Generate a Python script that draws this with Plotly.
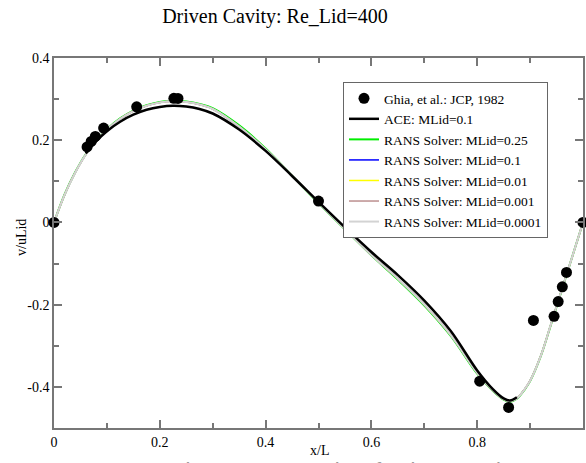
import plotly.graph_objects as go

# Ghia, Ghia & Shin (1982): v-velocity along the horizontal centreline, Re=400
ghia_x = [1.0000, 0.9688, 0.9609, 0.9531, 0.9453, 0.9063, 0.8594, 0.8047,
          0.5000, 0.2344, 0.2266, 0.1563, 0.0938, 0.0781, 0.0703, 0.0625, 0.0000]
ghia_v = [0.00000, -0.12146, -0.15663, -0.19254, -0.22847, -0.23827, -0.44993,
          -0.38598, 0.05188, 0.30174, 0.30203, 0.28124, 0.22965, 0.20920,
          0.19713, 0.18360, 0.00000]

# ACE solver, MLid = 0.1
ace_x = [0.06, 0.08, 0.10, 0.125, 0.15, 0.175, 0.20, 0.225, 0.25, 0.275, 0.30,
         0.35, 0.40, 0.45, 0.50, 0.55, 0.60, 0.65, 0.70, 0.75, 0.80, 0.83,
         0.85, 0.862, 0.875]
ace_v = [0.168, 0.198, 0.222, 0.245, 0.262, 0.274, 0.281, 0.284, 0.282, 0.276,
         0.265, 0.226, 0.174, 0.113, 0.050, -0.012, -0.072, -0.128, -0.190,
         -0.264, -0.360, -0.406, -0.428, -0.433, -0.425]

# RANS solver profiles
rans_x = [0.0, 0.02, 0.04, 0.06, 0.08, 0.10, 0.125, 0.15, 0.175, 0.20, 0.225,
          0.25, 0.275, 0.30, 0.35, 0.40, 0.45, 0.50, 0.55, 0.60, 0.65, 0.70,
          0.75, 0.80, 0.83, 0.85, 0.862, 0.875, 0.89, 0.90, 0.92, 0.94, 0.96,
          0.98, 1.0]
rans_v_025 = [0.0, 0.068, 0.122, 0.166, 0.200, 0.227, 0.253, 0.272, 0.285,
              0.293, 0.296, 0.294, 0.288, 0.278, 0.236, 0.180, 0.114, 0.047,
              -0.017, -0.080, -0.139, -0.202, -0.276, -0.368, -0.410, -0.431,
              -0.436, -0.429, -0.406, -0.386, -0.326, -0.246, -0.164, -0.082, 0.0]
rans_v_low = [0.0, 0.067, 0.121, 0.165, 0.199, 0.226, 0.252, 0.271, 0.284,
              0.292, 0.295, 0.293, 0.287, 0.276, 0.233, 0.178, 0.114, 0.048,
              -0.016, -0.079, -0.137, -0.200, -0.274, -0.366, -0.409, -0.430,
              -0.435, -0.428, -0.405, -0.385, -0.325, -0.245, -0.163, -0.082, 0.0]

rans_series = [
    ("RANS Solver: MLid=0.25", rans_v_025, "#00ee00", 2.0, 3),
    ("RANS Solver: MLid=0.1", rans_v_low, "#0000ff", 1.5, 4),
    ("RANS Solver: MLid=0.01", rans_v_low, "#ffff00", 1.5, 5),
    ("RANS Solver: MLid=0.001", rans_v_low, "#bc8f8f", 1.5, 6),
    ("RANS Solver: MLid=0.0001", rans_v_low, "#d3d3d3", 2.0, 7),
]

x_ticks = [0, 0.2, 0.4, 0.6, 0.8, 1.0]
x_tick_text = ["0", "0.2", "0.4", "0.6", "0.8", "1"]
y_ticks = [-0.4, -0.2, 0, 0.2, 0.4]
y_tick_text = ["-0.4", "-0.2", "0", "0.2", "0.4"]

SERIF = "Liberation Serif, Times New Roman, serif"
AXIS_GREY = "#777777"

fig = go.Figure()

for name, vals, color, width, rank in rans_series:
    fig.add_trace(go.Scatter(
        x=rans_x, y=vals, mode="lines", name=name,
        line=dict(color=color, width=width, shape="spline"),
        legendrank=rank,
    ))

fig.add_trace(go.Scatter(
    x=ace_x, y=ace_v, mode="lines", name="ACE: MLid=0.1",
    line=dict(color="black", width=2.5, shape="spline"),
    legendrank=2,
))

fig.add_trace(go.Scatter(
    x=ghia_x, y=ghia_v, mode="markers", name="Ghia, et al.: JCP, 1982",
    marker=dict(color="black", size=11, symbol="circle"),
    legendrank=1, cliponaxis=False,
))

axis_common = dict(
    showgrid=False, zeroline=False, showline=True, linecolor=AXIS_GREY,
    linewidth=1.5, mirror="ticks", ticks="inside", tickcolor=AXIS_GREY,
    ticklen=8, tickwidth=1.5,
    tickfont=dict(family=SERIF, size=14, color="black"),
)

fig.update_xaxes(
    range=[0, 1], tickvals=x_ticks, ticktext=x_tick_text,
    minor=dict(dtick=0.1, ticks="inside", ticklen=5, tickcolor=AXIS_GREY,
               tickwidth=1.5),
    **axis_common,
)
fig.update_yaxes(
    range=[-0.5, 0.4], tickvals=y_ticks, ticktext=y_tick_text,
    minor=dict(dtick=0.1, ticks="inside", ticklen=5, tickcolor=AXIS_GREY,
               tickwidth=1.5),
    **axis_common,
)

W, H = 586, 463
ML, MR, MT, MB = 54, 3, 58, 35
PW, PH = W - ML - MR, H - MT - MB


def px_x(px):
    return (px - ML) / PW


def px_y(py):
    return (H - MB - py) / PH


fig.update_layout(
    width=W, height=H,
    margin=dict(l=ML, r=MR, t=MT, b=MB, autoexpand=False),
    paper_bgcolor="white", plot_bgcolor="white",
    title=dict(text="Driven Cavity: Re_Lid=400", x=275 / W, xanchor="center",
               y=1 - 16 / H, yanchor="middle",
               font=dict(family=SERIF, size=20, color="black")),
    showlegend=True,
    legend=dict(
        x=px_x(343), y=px_y(82), xanchor="left", yanchor="top",
        bgcolor="white", bordercolor="#666666", borderwidth=1,
        font=dict(family=SERIF, size=13.5, color="black"),
        itemwidth=30, tracegroupgap=0,
    ),
    annotations=[
        dict(text="x/L", x=px_x(319), y=px_y(450), xref="paper", yref="paper",
             showarrow=False, font=dict(family=SERIF, size=14, color="black"),
             xanchor="center", yanchor="middle"),
        dict(text="v/uLid", x=px_x(21), y=px_y(238), xref="paper",
             yref="paper", showarrow=False, textangle=-90,
             font=dict(family=SERIF, size=14, color="black"),
             xanchor="center", yanchor="middle"),
        dict(text="Figure 12:  Results of Driven Cavity",
             x=px_x(170), y=px_y(456), xref="paper", yref="paper",
             showarrow=False, xanchor="left", yanchor="top",
             font=dict(family="Liberation Sans, Arial, sans-serif", size=22,
                       color="#9a9a9a")),
    ],
)

fig.write_html("out.html")
